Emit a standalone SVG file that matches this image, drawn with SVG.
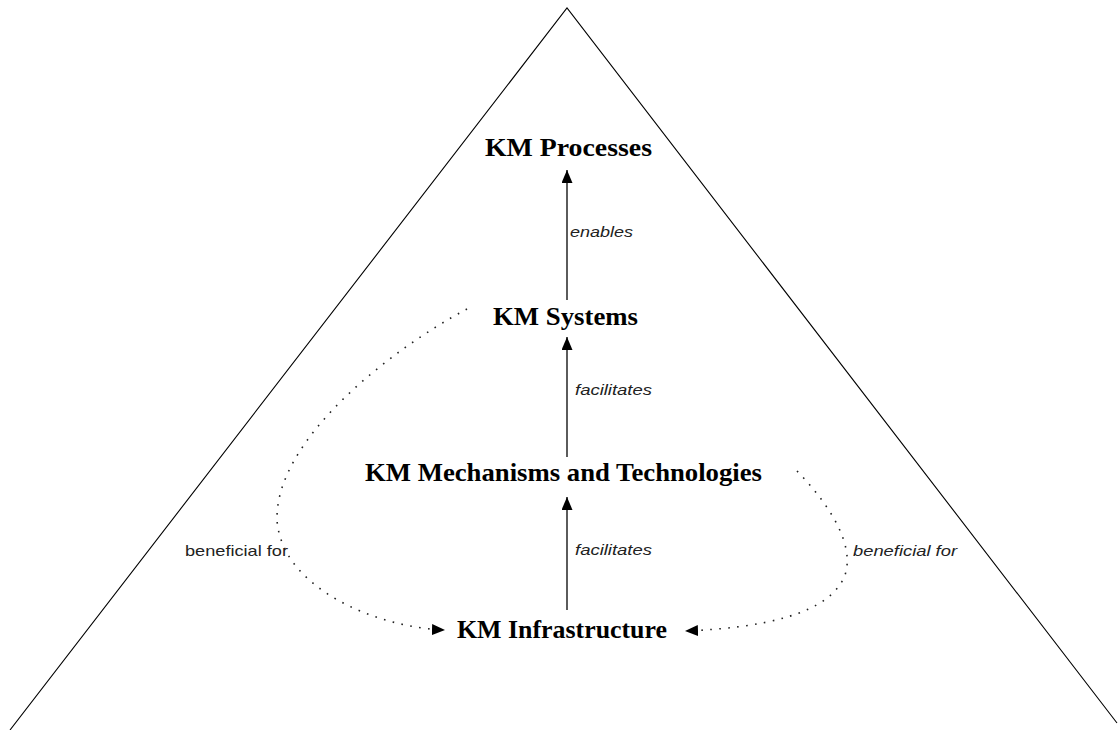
<svg xmlns="http://www.w3.org/2000/svg" width="1118" height="730" viewBox="0 0 1118 730">
<style>
.node{font-family:"Liberation Serif","Times New Roman",serif;font-weight:bold;font-size:26px;fill:#000}
.lbl{font-family:"Liberation Sans",Arial,sans-serif;font-size:15px;fill:#222}
.it{font-style:italic}
.arrow{stroke:#333;stroke-width:1.6;fill:none;marker-end:url(#ah)}
.dot{stroke:#222;stroke-width:1.6;fill:none;stroke-dasharray:1.6 7.4;marker-end:url(#ah)}
</style>
<defs>
<marker id="ah" viewBox="0 0 13 11" refX="13" refY="5.5" markerWidth="13" markerHeight="11" markerUnits="userSpaceOnUse" orient="auto">
<path d="M0,0 L13,5.5 L0,11 z" fill="#000"/>
</marker>
</defs>
<rect width="1118" height="730" fill="#fff"/>
<polyline id="pyramid" points="10,730 567,8 1117,723" fill="none" stroke="#000" stroke-width="1.1"/>
<g id="connectors">
<path class="arrow" d="M567,300 L567,170"/>
<path class="arrow" d="M567,457 L567,337"/>
<path class="arrow" d="M567,610 L567,497"/>
<path class="dot" d="M467,309 C390,350 275,440 277,520 C282,590 380,628 445,630"/>
<path class="dot" d="M797,471 C830,505 855,545 845,575 C830,615 760,628 685,631"/>
<text class="lbl it" x="570" y="237" textLength="63" lengthAdjust="spacingAndGlyphs">enables</text>
<text class="lbl it" x="575" y="395" textLength="77" lengthAdjust="spacingAndGlyphs">facilitates</text>
<text class="lbl it" x="575" y="555" textLength="77" lengthAdjust="spacingAndGlyphs">facilitates</text>
<text class="lbl" x="185" y="556" textLength="103" lengthAdjust="spacingAndGlyphs">beneficial for</text>
<text class="lbl it" x="853" y="556" textLength="104" lengthAdjust="spacingAndGlyphs">beneficial for</text>
</g>
<g id="km-processes"><text class="node" x="485" y="156" textLength="167" lengthAdjust="spacingAndGlyphs">KM Processes</text></g>
<g id="km-systems"><text class="node" x="493" y="325" textLength="145" lengthAdjust="spacingAndGlyphs">KM Systems</text></g>
<g id="km-mechanisms"><text class="node" x="365" y="481" textLength="397" lengthAdjust="spacingAndGlyphs">KM Mechanisms and Technologies</text></g>
<g id="km-infrastructure"><text class="node" x="457" y="638" textLength="210" lengthAdjust="spacingAndGlyphs">KM Infrastructure</text></g>
</svg>
